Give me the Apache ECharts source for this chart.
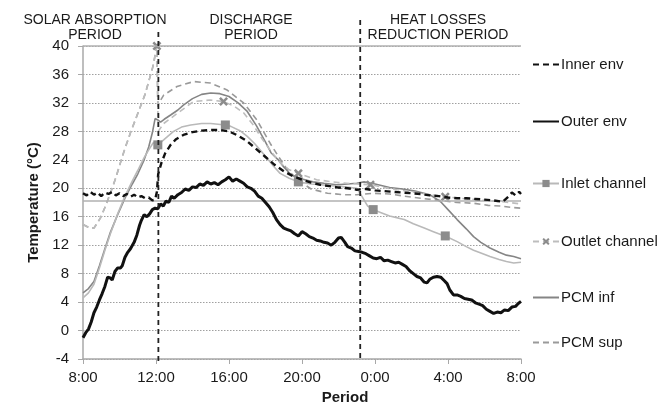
<!DOCTYPE html>
<html>
<head>
<meta charset="utf-8">
<script src="https://cdn.jsdelivr.net/npm/echarts@6/dist/echarts.min.js"></script>
<style>
  html, body { margin: 0; padding: 0; background: #ffffff; }
  #chart { width: 665px; height: 404px; }
</style>
</head>
<body>
<div id="chart"></div>
<script>
// Time is counted in hours from 8:00 on the first day (0 .. 24).
const xTickStart = 8;          // clock hour at x = 0
const yTicks = { min: -4, max: 40, step: 4 };

// Boundaries between the three operating periods (hours from 8:00)
const periodBounds = [4.13, 15.19];
const periodNames = ['SOLAR ABSORPTION\nPERIOD', 'DISCHARGE\nPERIOD', 'HEAT LOSSES\nREDUCTION PERIOD'];

// Reference temperature line and the upper bound line
const refLines = [18.3, 40];

// Series names
const seriesNames = ['Inner env', 'Outer env', 'Inlet channel', 'Outlet channel', 'PCM inf', 'PCM sup'];

// [hour, °C]
const innerEnv = [[0,19.3],[0.2,19.0],[0.4,19.5],[0.6,19.1],[0.8,19.4],[1.0,18.9],[1.2,19.4],[1.4,19.2],[1.6,19.5],[1.8,19.0],[2.0,19.3],[2.2,18.9],[2.4,19.2],[2.6,18.8],[2.8,19.1],[3.0,18.7],[3.2,18.9],[3.4,18.6],[3.6,18.7],[3.8,18.3],[3.95,18.4],[4.05,19.5],[4.12,22.0],[4.3,23.6],[4.5,24.9],[4.8,26.1],[5.1,26.9],[5.5,27.5],[6.0,27.9],[6.5,28.1],[7.0,28.2],[7.5,28.2],[8.0,28.0],[8.5,27.4],[9.0,26.6],[9.5,25.5],[10.0,24.4],[10.5,23.3],[11.0,22.4],[11.5,21.7],[12.0,21.2],[12.5,20.8],[13.0,20.5],[13.5,20.3],[14.0,20.1],[14.5,20.0],[15.0,19.8],[15.5,19.9],[16.0,19.7],[16.5,19.6],[17.0,19.5],[17.5,19.4],[18.0,19.3],[18.5,19.2],[19.0,19.0],[19.5,18.9],[20.0,18.7],[20.5,18.6],[21.0,18.6],[21.5,18.5],[22.0,18.4],[22.5,18.3],[23.0,18.1],[23.3,18.8],[23.5,19.4],[23.7,19.0],[23.9,19.5],[24,19.2]];

const outerEnv = [[0,-1.0],[0.15,-0.3],[0.3,0.2],[0.45,1.2],[0.6,2.5],[0.75,3.3],[0.9,4.3],[1.05,5.2],[1.2,6.2],[1.35,7.5],[1.5,7.4],[1.6,7.1],[1.75,8.3],[1.9,8.8],[2.05,8.8],[2.15,9.1],[2.3,10.3],[2.45,11.0],[2.6,11.5],[2.8,12.4],[2.95,13.4],[3.1,14.8],[3.2,15.5],[3.35,16.3],[3.5,16.0],[3.65,16.4],[3.8,17.0],[3.95,17.2],[4.1,17.1],[4.25,17.8],[4.4,17.5],[4.55,18.2],[4.7,18.0],[4.85,18.9],[5.0,18.6],[5.2,19.1],[5.4,19.4],[5.6,19.9],[5.8,19.7],[6.0,20.2],[6.2,20.1],[6.4,20.6],[6.6,20.4],[6.8,20.9],[7.0,20.6],[7.2,20.8],[7.4,20.5],[7.6,20.9],[7.8,21.2],[8.0,21.6],[8.2,21.0],[8.4,21.3],[8.6,21.0],[8.8,20.7],[9.0,20.2],[9.2,20.0],[9.4,19.6],[9.6,18.9],[9.8,18.6],[10.0,18.0],[10.2,17.4],[10.4,16.6],[10.6,15.6],[10.8,14.9],[11.0,14.4],[11.2,14.2],[11.4,14.0],[11.6,13.6],[11.8,13.3],[12.0,13.9],[12.2,13.6],[12.4,13.2],[12.6,13.0],[12.8,12.7],[13.0,12.6],[13.2,12.4],[13.4,12.3],[13.6,12.0],[13.8,12.4],[14.0,13.0],[14.15,13.1],[14.35,12.4],[14.5,11.8],[14.7,11.6],[14.9,11.2],[15.1,11.1],[15.3,11.0],[15.5,10.8],[15.7,10.5],[15.9,10.2],[16.1,10.1],[16.3,10.3],[16.5,9.8],[16.7,9.9],[16.9,9.7],[17.1,9.5],[17.3,9.6],[17.5,9.3],[17.7,9.0],[17.9,8.4],[18.1,8.0],[18.3,7.6],[18.5,7.4],[18.7,6.8],[18.85,6.7],[19.0,7.2],[19.2,7.5],[19.4,7.6],[19.6,7.5],[19.8,7.0],[19.95,6.6],[20.1,5.7],[20.3,5.0],[20.5,5.0],[20.7,4.8],[20.9,4.5],[21.1,4.4],[21.3,4.3],[21.5,3.9],[21.7,3.7],[21.9,3.5],[22.1,3.0],[22.3,2.7],[22.5,2.4],[22.7,2.6],[22.9,2.5],[23.1,2.9],[23.3,2.8],[23.5,3.3],[23.7,3.4],[23.85,3.8],[24,4.1]];

const inletChannel = [[0,4.6],[0.3,5.3],[0.6,6.5],[0.9,8.8],[1.2,11.3],[1.5,13.6],[1.9,16.4],[2.3,18.9],[2.7,21.0],[3.0,22.5],[3.35,24.3],[3.6,25.4],[3.85,26.4],[4.1,26.1],[4.42,26.8],[4.96,28.0],[5.4,28.6],[5.9,28.9],[6.5,29.1],[7.0,29.1],[7.8,28.9],[8.1,28.7],[8.6,28.1],[9.0,27.3],[9.4,26.3],[9.7,25.4],[10.1,24.2],[10.44,23.1],[10.8,22.1],[11.3,21.4],[11.8,20.9],[12.5,20.6],[13.0,20.5],[14.0,20.3],[15.0,20.0],[15.3,18.8],[15.6,17.5],[15.9,17.0],[16.3,16.6],[16.8,16.1],[17.3,15.8],[17.6,15.6],[18.1,15.0],[18.7,14.4],[19.2,13.9],[19.6,13.5],[19.85,13.3],[20.5,12.5],[21.0,11.8],[21.4,11.3],[21.8,10.9],[22.3,10.4],[22.8,10.0],[23.2,9.7],[23.6,9.5],[24,9.6]];
const inletMarks = [4.1, 7.8, 11.8, 15.9, 19.85];

const outletChannel = [[0,14.9],[0.3,14.5],[0.6,14.4],[0.95,15.8],[1.2,17.3],[1.5,19.3],[1.8,21.5],[2.04,23.5],[2.3,25.6],[2.6,27.8],[3.0,30.5],[3.4,33.2],[3.83,37.1],[4.05,40.0],[4.12,28.0],[4.42,29.1],[5.15,30.5],[6.06,32.2],[6.97,32.4],[7.7,32.2],[8.3,31.5],[8.8,30.6],[9.3,29.0],[9.8,27.0],[10.3,25.2],[10.8,23.6],[11.3,22.6],[11.8,22.1],[12.8,21.2],[14.0,20.8],[15.0,20.6],[15.75,20.5],[16.5,20.1],[17.2,19.8],[18.0,19.5],[18.8,19.2],[19.85,18.8],[21.0,18.5],[22.0,18.3],[23.0,18.1],[24,17.8]];
const outletMarks = [4.05, 7.7, 11.8, 15.75, 19.85];

const pcmInf = [[0,5.3],[0.3,5.9],[0.6,6.9],[0.9,9.1],[1.2,11.5],[1.5,13.8],[1.9,16.3],[2.3,18.6],[2.7,20.6],[3.0,22.0],[3.35,24.0],[3.6,25.8],[3.8,27.8],[3.95,29.8],[4.1,29.6],[4.25,29.3],[4.45,29.7],[4.8,30.3],[5.2,31.0],[5.5,31.7],[6.0,32.6],[6.5,33.2],[7.0,33.4],[7.5,33.3],[8.0,32.9],[8.5,32.0],[9.0,30.8],[9.5,28.8],[10.0,26.5],[10.3,25.0],[10.7,24.0],[11.0,23.0],[11.4,21.9],[12.0,21.3],[12.6,20.9],[13.2,20.7],[13.9,20.5],[14.5,20.6],[15.0,20.7],[15.4,20.9],[16.0,20.6],[16.8,20.1],[17.5,19.9],[18.2,19.6],[19.0,19.1],[19.6,18.1],[20.0,17.0],[20.5,15.6],[21.0,14.3],[21.4,13.2],[21.8,12.4],[22.3,11.6],[22.8,11.0],[23.2,10.6],[23.6,10.4],[24,10.1]];

const pcmSup = [[0,14.9],[0.3,14.5],[0.6,14.4],[0.95,15.8],[1.2,17.3],[1.5,19.3],[1.8,21.5],[2.04,23.5],[2.3,25.6],[2.6,27.8],[3.0,30.5],[3.4,33.2],[3.83,37.1],[4.05,40.0],[4.1,31.7],[4.42,33.1],[5.15,34.3],[6.06,35.0],[6.97,34.8],[7.9,33.8],[8.8,32.0],[9.53,29.6],[10.26,26.3],[10.7,24.5],[11.2,22.6],[11.8,21.1],[12.5,19.9],[13.4,19.3],[14.3,19.1],[15.0,19.1],[15.9,19.3],[16.8,19.2],[17.6,18.9],[18.5,18.6],[19.5,18.3],[20.5,18.0],[21.4,17.9],[22.2,17.6],[22.9,17.5],[23.5,17.3],[24,17.2]];

const FONT = '"Liberation Sans", Arial, sans-serif';
const TEXT = '#1a1a1a';

// Turn [h, v] pairs into line data; only listed hours carry a marker
function toData(pairs, marks) {
  return pairs.map(function (p) {
    if (marks && marks.indexOf(p[0]) >= 0) return { value: p };
    return { value: p, symbol: 'none' };
  });
}

const crossPath = 'path://M0,2 L2,0 L5,3 L8,0 L10,2 L7,5 L10,8 L8,10 L5,7 L2,10 L0,8 L3,5 Z';

const series = [
  {
    name: seriesNames[5], type: 'line', data: toData(pcmSup), symbol: 'none',
    lineStyle: { color: '#9a9a9a', width: 1.6, type: [6, 4] }, itemStyle: { color: '#9a9a9a' }, z: 2
  },
  {
    name: seriesNames[4], type: 'line', data: toData(pcmInf), symbol: 'none',
    lineStyle: { color: '#858585', width: 1.6 }, itemStyle: { color: '#858585' }, z: 3
  },
  {
    name: seriesNames[3], type: 'line', data: toData(outletChannel, outletMarks),
    symbol: crossPath, symbolSize: 9,
    lineStyle: { color: '#bdbdbd', width: 1.6, type: [6, 4] }, itemStyle: { color: '#8c8c8c' }, z: 4
  },
  {
    name: seriesNames[2], type: 'line', data: toData(inletChannel, inletMarks),
    symbol: 'rect', symbolSize: 9,
    lineStyle: { color: '#b9b9b9', width: 1.6 }, itemStyle: { color: '#8c8c8c' }, z: 3,
    markLine: {
      silent: true, symbol: 'none', label: { show: false },
      lineStyle: { color: '#b0b0b0', width: 1.5, type: 'solid' },
      data: refLines.map(function (v) { return { yAxis: v }; })
    }
  },
  {
    name: seriesNames[1], type: 'line', data: toData(outerEnv), symbol: 'none',
    lineStyle: { color: '#111111', width: 3 }, itemStyle: { color: '#111111' }, z: 5
  },
  {
    name: seriesNames[0], type: 'line', data: toData(innerEnv), symbol: 'none',
    lineStyle: { color: '#111111', width: 2.4, type: [6, 4] }, itemStyle: { color: '#111111' }, z: 6
  }
];

// Entries whose series carry markers show them in the legend too
const legendHasMarker = [false, false, true, true, false, false];

// One legend block per entry so the column spacing can follow the layout on the right
const legendTops = [52, 109, 171, 229, 285, 330];
const legends = seriesNames.map(function (n, i) {
  return {
    data: [n], left: 527, top: legendTops[i], orient: 'vertical',
    itemWidth: 26, itemHeight: 9, itemGap: 0,
    itemStyle: legendHasMarker[i] ? {} : { opacity: 0 },
    textStyle: { fontFamily: FONT, fontSize: 15, color: TEXT, padding: [0, 0, 0, -3] },
    selectedMode: false
  };
});

const chart = echarts.init(document.getElementById('chart'), null, { renderer: 'canvas' });

const option = {
  animation: false,
  backgroundColor: '#ffffff',
  grid: { left: 83, right: 144, top: 46, bottom: 45, containLabel: false, outerBoundsMode: 'none' },
  legend: legends,
  xAxis: {
    type: 'value', min: 0, max: 24, interval: 4,
    name: 'Period', nameLocation: 'middle', nameGap: 31,
    nameTextStyle: { fontFamily: FONT, fontSize: 15, fontWeight: 'bold', color: TEXT, padding: [0, 0, 0, 86] },
    axisLine: { show: true, onZero: false, lineStyle: { color: '#a8a8a8', width: 1.5 } },
    axisTick: { show: true, inside: false, length: 5, lineStyle: { color: '#a8a8a8' } },
    axisLabel: {
      fontFamily: FONT, fontSize: 15, color: TEXT, margin: 11,
      formatter: function (h) { return ((xTickStart + h) % 24) + ':00'; }
    },
    splitLine: { show: false }
  },
  yAxis: {
    type: 'value', min: yTicks.min, max: yTicks.max, interval: yTicks.step,
    name: 'Temperature (°C)', nameLocation: 'middle', nameGap: 35,
    nameTextStyle: { fontFamily: FONT, fontSize: 15, fontWeight: 'bold', color: TEXT },
    axisLine: { show: true, lineStyle: { color: '#a8a8a8', width: 1.5 } },
    axisTick: { show: true, inside: false, length: 5, lineStyle: { color: '#a8a8a8' } },
    axisLabel: { fontFamily: FONT, fontSize: 15, color: TEXT, margin: 14 },
    splitLine: { show: true, lineStyle: { color: '#a0a0a0', width: 1, type: [1.5, 1.5] } }
  },
  series: series
};

chart.setOption(option);

// Period dividers and period titles, placed from the axis scale
function drawPeriods() {
  const xs = periodBounds.map(function (h) { return chart.convertToPixel({ xAxisIndex: 0 }, h); });
  const yBottom = chart.convertToPixel({ yAxisIndex: 0 }, yTicks.min) + 3;
  const tops = [32, 20];
  const elements = xs.map(function (x, i) {
    return {
      type: 'line', silent: true, z: 50,
      shape: { x1: x, y1: tops[i], x2: x, y2: yBottom },
      style: { stroke: '#222222', lineWidth: 1.8, lineDash: [5, 4] }
    };
  });
  const titleX = [95, 251, 438];
  periodNames.forEach(function (t, i) {
    elements.push({
      type: 'text', silent: true, z: 60, x: titleX[i], y: 13,
      style: { text: t, fontFamily: FONT, fontSize: 14, fill: TEXT, align: 'center', verticalAlign: 'top', lineHeight: 15 }
    });
  });
  chart.setOption({ graphic: elements });
}
drawPeriods();
</script>
</body>
</html>
